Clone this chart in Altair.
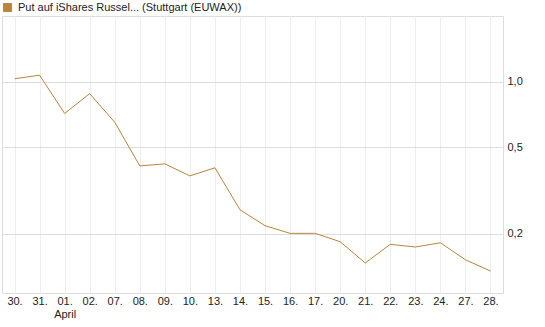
import altair as alt
import pandas as pd

dates = ["30.", "31.", "01.", "02.", "07.", "08.", "09.", "10.", "13.", "14.",
         "15.", "16.", "17.", "20.", "21.", "22.", "23.", "24.", "27.", "28."]
values = [1.03, 1.07, 0.714, 0.88, 0.651, 0.41, 0.419, 0.369, 0.402, 0.258,
          0.218, 0.201, 0.201, 0.184, 0.147, 0.179, 0.174, 0.182, 0.152, 0.135]
series_name = "Put auf iShares Russel... (Stuttgart (EUWAX))"
y_ticks = [0.2, 0.5, 1.0]

df = pd.DataFrame({"date": dates, "value": values, "series": series_name})

FONT = "Liberation Sans"
LINE = "#b8863b"

chart = alt.Chart(df).mark_line(strokeWidth=1, color=LINE).encode(
    x=alt.X("date:O", sort=None,
            scale=alt.Scale(type="point", padding=0.5),
            axis=alt.Axis(title=None, labelAngle=0, ticks=False, domain=False,
                          grid=True, gridColor="#eeeeee", gridWidth=1,
                          labelFont=FONT, labelFontSize=11, labelColor="#222",
                          labelPadding=2, labelBaseline="top", labelLineHeight=13,
                          labelExpr="datum.label == '01.' ? ['01.', 'April'] : datum.label")),
    y=alt.Y("value:Q",
            scale=alt.Scale(type="log", domain=[0.107, 2.0], nice=False),
            axis=alt.Axis(title=None, orient="right", values=y_ticks, ticks=False, domain=False,
                          grid=True, gridColor="#dddddd", gridWidth=1,
                          labelFont=FONT, labelFontSize=11, labelColor="#222",
                          labelPadding=4,
                          labelExpr="replace(format(datum.value, '.1f'), '.', ',')")),
    color=alt.Color("series:N", scale=alt.Scale(range=[LINE]),
                    legend=alt.Legend(title=None, orient="none", legendX=0, legendY=-14,
                                      symbolType="square", symbolSize=64,
                                      symbolFillColor=LINE, symbolStrokeColor="#444",
                                      symbolStrokeWidth=1, symbolOpacity=1,
                                      labelFont=FONT, labelFontSize=11, labelColor="#222",
                                      labelLimit=400, padding=0, labelOffset=5)),
).properties(
    width=501, height=277,
    padding={"left": 2, "top": 16, "right": 42, "bottom": 34},
    autosize=alt.AutoSizeParams(type="none"),
).configure_view(stroke="#d9d9d9", strokeWidth=1).configure(background="white")

chart.save("out.html", embed_options={"renderer": "svg", "actions": False})
